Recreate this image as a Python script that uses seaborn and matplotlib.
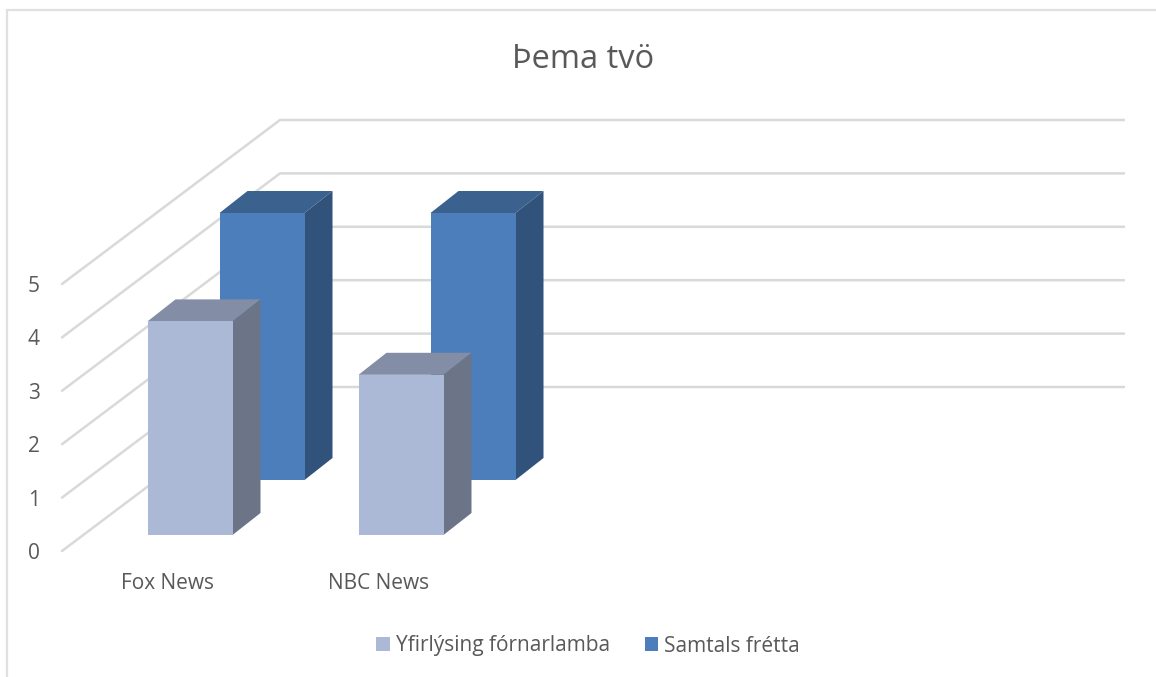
import matplotlib
matplotlib.use("Agg")
import matplotlib.pyplot as plt
import pandas as pd
import seaborn as sns
from matplotlib.lines import Line2D
from matplotlib.patches import Polygon, Patch
from matplotlib.transforms import ScaledTranslation

categories = ["Fox News", "NBC News"]
series_names = ["Yfirlýsing fórnarlamba", "Samtals frétta"]
yfirlysing = [4, 3]
samtals = [5, 5]
y_ticks = [0, 1, 2, 3, 4, 5]
title_text = "Þema tvö"

W, H = 1156, 677
DPI = 100
PX_X = 211.0   # pixels per category
PX_Y = 53.4    # pixels per value unit

sns.set_theme(style="white")
plt.rcParams["font.family"] = ["Open Sans", "DejaVu Sans"]

df = pd.DataFrame({
    "cat": categories * 2,
    "val": yfirlysing + samtals,
    "series": [series_names[0]] * 2 + [series_names[1]] * 2,
})

face = {series_names[0]: "#ABB9D7", series_names[1]: "#4D7EBC"}
top = {series_names[0]: "#838EA6", series_names[1]: "#3B628F"}
side = {series_names[0]: "#6B7587", series_names[1]: "#31527A"}

fig = plt.figure(figsize=(W / DPI, H / DPI), dpi=DPI)
fig.patch.set_facecolor("white")
ax = fig.add_axes([62 / W, (H - 551) / H, 844 / W, 267 / H])
ax.patch.set_alpha(0)

sns.barplot(data=df, x="cat", y="val", hue="series", hue_order=series_names,
            order=categories, palette=face, dodge=False, width=85 / PX_X,
            saturation=1, ax=ax, legend=False, errorbar=None, linewidth=0)
ax.set_xlim(-0.5, 3.5)
ax.set_ylim(0, 5)
ax.set_xlabel("")
ax.set_ylabel("")
sns.despine(ax=ax, left=True, bottom=True)

# Oblique depth: pixel offsets of each series' front plane and depth of a bar
offsets = {series_names[0]: (22.5, 16.0), series_names[1]: (94.5, 71.0)}
depth_px = (28.0, 22.0)
wall_px = (218.0, 164.0)
zorders = {series_names[0]: 6, series_names[1]: 4}


def shifted(dx, dy):
    return ax.transData + ScaledTranslation(dx / DPI, dy / DPI, fig.dpi_scale_trans)


# Walls: gridlines along the left wall and the back wall
grid_c = "#D9D9D9"
wall_dx, wall_dy = wall_px[0] / PX_X, wall_px[1] / PX_Y
x0, x1 = ax.get_xlim()
for v in y_ticks:
    ax.plot([x0, x0 + wall_dx, x1 + wall_dx], [v, v + wall_dy, v + wall_dy],
            color=grid_c, lw=1.8, clip_on=False, zorder=1, solid_joinstyle="miter")

# Bars: shift seaborn's rectangles to their depth plane and add top/side faces
for container, name in zip(ax.containers, series_names):
    dx, dy = offsets[name]
    tr = shifted(dx, dy)
    z = zorders[name]
    ddx, ddy = depth_px[0] / PX_X, depth_px[1] / PX_Y
    for bar in container:
        if not bar.get_height():
            continue
        bar.set_transform(tr)
        bar.set_clip_on(False)
        bar.set_zorder(z + 1)
        bx, bw, bh = bar.get_x(), bar.get_width(), bar.get_height()
        ax.add_patch(Polygon([(bx, bh), (bx + bw, bh), (bx + bw + ddx, bh + ddy), (bx + ddx, bh + ddy)],
                             closed=True, fc=top[name], ec="none", transform=tr, clip_on=False, zorder=z))
        ax.add_patch(Polygon([(bx + bw, 0), (bx + bw + ddx, ddy), (bx + bw + ddx, bh + ddy), (bx + bw, bh)],
                             closed=True, fc=side[name], ec="none", transform=tr, clip_on=False, zorder=z))

# Axes text
ax.set_yticks(y_ticks)
ax.set_yticklabels([str(v) for v in y_ticks], fontsize=15, color="#595959")
ax.set_xticks(range(len(categories)))
ax.set_xticklabels(categories, fontsize=15, color="#595959")
ax.tick_params(axis="y", length=0, pad=16)
ax.tick_params(axis="x", length=0, pad=16)

fig.text(583 / W, 1 - 59 / H, title_text, fontsize=23.5, color="#595959", ha="center", va="center")

handles = [Patch(fc=face[n], ec="none") for n in series_names]
fig.legend(handles, series_names, loc="center", bbox_to_anchor=(588 / W, 1 - 646 / H),
           ncol=2, frameon=False, fontsize=15, labelcolor="#595959",
           handlelength=0.65, handleheight=0.65, handletextpad=0.29, columnspacing=1.68,
           borderpad=0)

# Chart frame
frame_c = "#E0E0E0"
fig.add_artist(Line2D([7 / W, 7 / W, 1], [0, 1 - 10 / H, 1 - 10 / H], color=frame_c, lw=1.6,
                      transform=fig.transFigure, solid_joinstyle="miter"))

fig.savefig("out.png", dpi=DPI, facecolor="white")
